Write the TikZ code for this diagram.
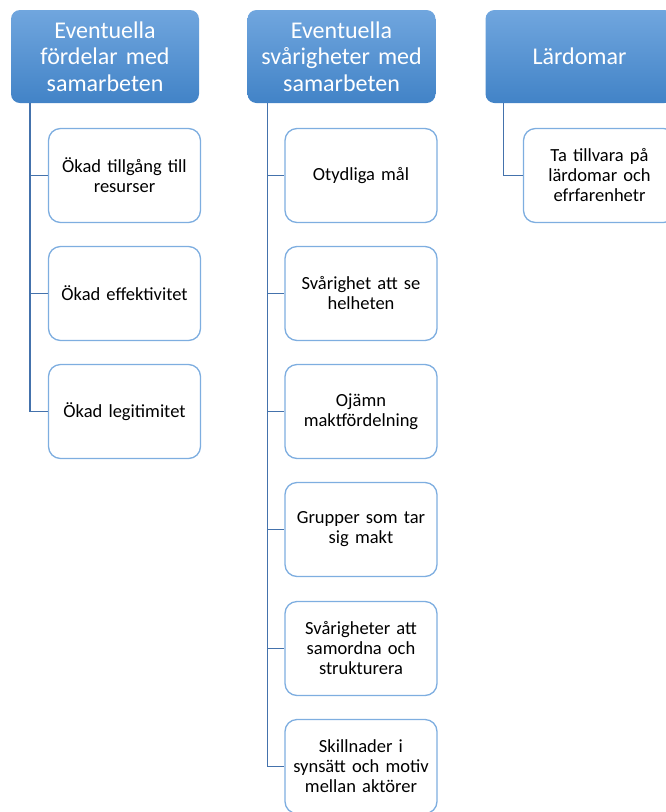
\documentclass[tikz,border=0pt]{standalone}
\usepackage{fontspec}
\setmainfont{Carlito}
\definecolor{headtop}{RGB}{112,166,222}
\definecolor{headbot}{RGB}{66,131,199}
\definecolor{boxline}{RGB}{126,174,224}
\definecolor{connline}{RGB}{68,114,172}
\begin{document}
\begin{tikzpicture}[x=1pt,y=-1pt,
  head/.style={rounded corners=9pt, top color=headtop, bottom color=headbot,
    minimum width=188pt, minimum height=93pt, text width=186pt, align=center,
    text=white, font=\fontsize{24}{26.5}\selectfont, inner sep=0pt},
  item/.style={draw=boxline, line width=1.3pt, rounded corners=12pt, fill=white,
    minimum width=152pt, minimum height=94pt, text width=150pt, align=center,
    font=\fontsize{18.5}{20}\selectfont, inner sep=0pt},
  conn/.style={draw=connline, line width=1.5pt}]
\useasboundingbox (0,0) rectangle (666,812);
\clip (0,0) rectangle (666,812);
% headers
\node[head] (h1) at (105,56.5){Eventuella\\fördelar med\\samarbeten};
\node[head] (h2) at (341.5,56.5){Eventuella\\svårigheter med\\samarbeten};
\node[head] (h3) at (579.5,56.5){Lärdomar};
% first column
\node[item] (c11) at (124.5,175.5){Ökad tillgång till\\resurser};
\node[item] (c12) at (124.5,293.5){Ökad effektivitet};
\node[item] (c13) at (124.5,411.5){Ökad legitimitet};
\coordinate (r1) at ([xshift=19pt]h1.south west);
\draw[conn](r1) |- (c11.west);
\draw[conn](r1) |- (c12.west);
\draw[conn](r1) |- (c13.west);
% second column
\node[item] (c21) at (361,175.5){Otydliga mål};
\node[item] (c22) at (361,293.5){Svårighet att se\\helheten};
\node[item] (c23) at (361,411.5){Ojämn\\maktfördelning};
\node[item] (c24) at (361,529.5){Grupper som tar\\sig makt};
\node[item] (c25) at (361,648.5){Svårigheter att\\samordna och\\strukturera};
\node[item] (c26) at (361,766.5){Skillnader i\\synsätt och motiv\\mellan aktörer};
\coordinate (r2) at ([xshift=20pt]h2.south west);
\draw[conn](r2) |- (c21.west);
\draw[conn](r2) |- (c22.west);
\draw[conn](r2) |- (c23.west);
\draw[conn](r2) |- (c24.west);
\draw[conn](r2) |- (c25.west);
\draw[conn](r2) |- (c26.west);
% third column
\node[item] (c31) at (599.5,175.5){Ta tillvara på\\lärdomar och\\efrfarenhetr};
\coordinate (r3) at ([xshift=18pt]h3.south west);
\draw[conn](r3) |- (c31.west);
\end{tikzpicture}
\end{document}
